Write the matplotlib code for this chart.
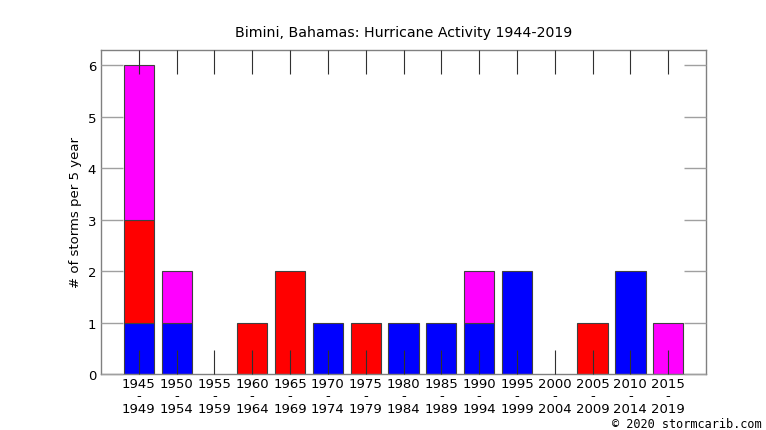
import numpy as np
import matplotlib
matplotlib.use('Agg')
import matplotlib.pyplot as plt

# storm counts per 5-year period
periods = ['1945\n-\n1949', '1950\n-\n1954', '1955\n-\n1959', '1960\n-\n1964',
           '1965\n-\n1969', '1970\n-\n1974', '1975\n-\n1979', '1980\n-\n1984',
           '1985\n-\n1989', '1990\n-\n1994', '1995\n-\n1999', '2000\n-\n2004',
           '2005\n-\n2009', '2010\n-\n2014', '2015\n-\n2019']
blue = [1, 1, 0, 0, 0, 1, 0, 1, 1, 1, 2, 0, 0, 2, 0]
red = [2, 0, 0, 1, 2, 0, 1, 0, 0, 0, 0, 0, 1, 0, 0]
magenta = [3, 1, 0, 0, 0, 0, 0, 0, 0, 1, 0, 0, 0, 0, 1]

x = np.arange(len(periods))
blue = np.array(blue)
red = np.array(red)
magenta = np.array(magenta)

fig = plt.figure(figsize=(7.66, 4.31), dpi=100)
ax = fig.add_axes([101/766, 1-375/431, (706-101)/766, (375-51)/431])

ec = '#404040'
bottom = np.zeros(len(x))
for vals, col in [(blue, '#0000ff'), (red, '#ff0000'), (magenta, '#ff00ff')]:
    m = vals > 0
    ax.bar(x[m], vals[m], 0.8, bottom=bottom[m], color=col, edgecolor=ec,
           linewidth=0.8, zorder=2)
    bottom = bottom + vals

ax.set_xlim(-1, 15)
ax.set_ylim(0, 6.3)
ax.set_xticks(x)
ax.set_xticklabels(periods, fontsize=9.5, linespacing=0.95)
ax.set_yticks(range(7))
ax.tick_params(axis='y', labelsize=9.5, direction='in', length=16, color='#a0a0a0',
               right=True, width=1)
ax.tick_params(axis='x', direction='in', length=17, color='#303030', top=True,
               width=0.8, pad=2)
for t in ax.xaxis.get_major_ticks():
    t.tick1line.set_zorder(5)
ax.set_axisbelow(False)
for s in ax.spines.values():
    s.set_color('#808080')
    s.set_linewidth(1)

ax.set_ylabel('# of storms per 5 year', fontsize=9.5)
ax.set_title('Bimini, Bahamas: Hurricane Activity 1944-2019', fontsize=10.2, pad=10)
fig.text(762/766, 1-425/431, '\u00a9 2020 stormcarib.com', family='DejaVu Sans Mono',
         fontsize=8.6, ha='right', va='center')

fig.savefig('out.png', dpi=100)
